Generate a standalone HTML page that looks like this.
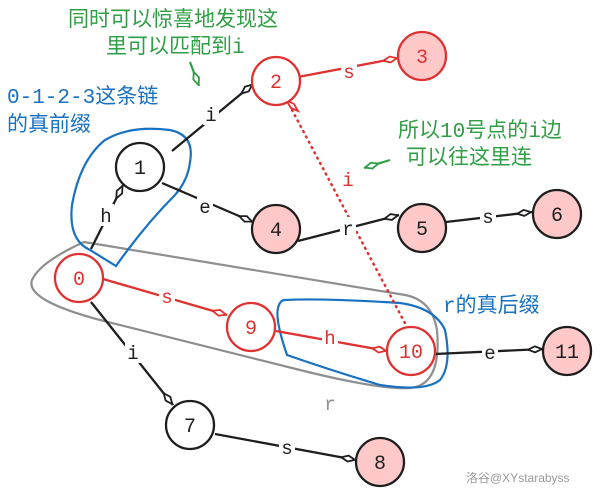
<!DOCTYPE html>
<html><head><meta charset="utf-8"><style>
html,body{margin:0;padding:0;background:#fff}
svg{display:block}
text{font-family:"Liberation Mono","Noto Sans CJK SC",monospace;}
.cn{font-family:"Liberation Sans","Noto Sans CJK SC",sans-serif;}
</style></head><body>
<svg width="600" height="493" viewBox="0 0 600 493" xmlns="http://www.w3.org/2000/svg">
<defs>
<marker id="dk" viewBox="0 0 16 8" refX="16" refY="4" markerWidth="16" markerHeight="8" markerUnits="userSpaceOnUse" orient="auto"><path d="M1 4 L8 1 L15 4 L8 7 Z" fill="#fff" stroke="#1e1e1e" stroke-width="1.8"/></marker>
<marker id="dr" viewBox="0 0 16 8" refX="16" refY="4" markerWidth="16" markerHeight="8" markerUnits="userSpaceOnUse" orient="auto"><path d="M1 4 L8 1 L15 4 L8 7 Z" fill="#fff" stroke="#e03131" stroke-width="1.8"/></marker>
<marker id="dg" viewBox="0 0 16 8" refX="16" refY="4" markerWidth="16" markerHeight="8" markerUnits="userSpaceOnUse" orient="auto"><path d="M1 4 L8 1 L15 4 L8 7 Z" fill="#fff" stroke="#2f9e44" stroke-width="1.8"/></marker>
</defs>

<path d="M84 242 L405 295 Q432 300 437 330 Q442 385 410 388 Q380 390 300 370 Q200 345 100 320 Q25 300 32 280 Q40 262 84 242 Z" fill="none" stroke="#8f8f8f" stroke-width="2.2"/>
<path d="M190 162 Q195 135 170 130 Q130 125 105 140 Q80 160 72 205 Q68 240 90 250 L116 266 Q145 225 175 195 Q188 180 190 162 Z" fill="none" stroke="#1971c2" stroke-width="2.2"/>
<path d="M285 300 Q320 298 400 303 Q435 308 445 330 Q452 365 440 380 Q425 392 380 385 Q330 370 287 355 Q275 320 278 308 Q280 300 285 300 Z" fill="none" stroke="#1971c2" stroke-width="2.2"/>

<g stroke="#1e1e1e" stroke-width="2.3" fill="none">
<line x1="172" y1="151" x2="253" y2="84" marker-end="url(#dk)"/>
<line x1="162" y1="183" x2="253" y2="222" marker-end="url(#dk)"/>
<line x1="91" y1="249" x2="123" y2="185" marker-end="url(#dk)"/>
<line x1="298" y1="241" x2="399" y2="215" marker-end="url(#dk)"/>
<line x1="446" y1="222" x2="532" y2="212" marker-end="url(#dk)"/>
<line x1="435" y1="354" x2="543" y2="349" marker-end="url(#dk)"/>
<line x1="91" y1="302" x2="173" y2="405" marker-end="url(#dk)"/>
<line x1="215" y1="434" x2="356" y2="460" marker-end="url(#dk)"/>
</g>
<g stroke="#e03131" stroke-width="2.3" fill="none">
<line x1="298" y1="77" x2="398" y2="58" marker-end="url(#dr)"/>
<line x1="103" y1="279" x2="227" y2="315" marker-end="url(#dr)"/>
<line x1="276" y1="331" x2="387" y2="351" marker-end="url(#dr)"/>
<line x1="292" y1="110" x2="407" y2="327" stroke-width="2.5" stroke-dasharray="1,5" stroke-linecap="round"/>
</g>
<path d="M286 100 L291 108 L298 111 L294 104 Z" fill="#fff" stroke="#e03131" stroke-width="1.8"/>
<g stroke="#2f9e44" stroke-width="2.2" fill="none">
<line x1="190" y1="62" x2="199" y2="86" marker-end="url(#dg)"/>
<line x1="390" y1="160" x2="364" y2="168" marker-end="url(#dg)"/>
</g>

<g font-size="19" text-anchor="middle" fill="#1e1e1e">
<rect x="203" y="103" width="16" height="22" fill="#fff"/><text x="211" y="121">i</text>
<rect x="197" y="195" width="16" height="22" fill="#fff"/><text x="205" y="213">e</text>
<rect x="98" y="204" width="16" height="22" fill="#fff"/><text x="106" y="222">h</text>
<rect x="340" y="217" width="16" height="22" fill="#fff"/><text x="348" y="235">r</text>
<rect x="480" y="205" width="16" height="22" fill="#fff"/><text x="488" y="223">s</text>
<rect x="482" y="341" width="16" height="22" fill="#fff"/><text x="490" y="359">e</text>
<rect x="125" y="341" width="16" height="22" fill="#fff"/><text x="133" y="359">i</text>
<rect x="279" y="436" width="16" height="22" fill="#fff"/><text x="287" y="454">s</text>
<text x="330" y="410" fill="#8f8f8f">r</text>
</g>
<g font-size="19" text-anchor="middle" fill="#e03131">
<rect x="341" y="61" width="16" height="22" fill="#fff"/><text x="349" y="78">s</text>
<rect x="159" y="286" width="16" height="22" fill="#fff"/><text x="167" y="303">s</text>
<rect x="322" y="327" width="16" height="22" fill="#fff"/><text x="330" y="344">h</text>
<rect x="340" y="169" width="16" height="22" fill="#fff"/><text x="348" y="186">i</text>
</g>

<g stroke-width="2.3" font-size="20" text-anchor="middle">
<circle cx="140" cy="167" r="24" fill="#fff" stroke="#1e1e1e"/><text x="140" y="174" fill="#1e1e1e" stroke="none">1</text>
<circle cx="276" cy="81" r="24" fill="#fff" stroke="#e03131"/><text x="276" y="88" fill="#e03131" stroke="none">2</text>
<circle cx="422" cy="56" r="24" fill="#ffc9c9" stroke="#e03131"/><text x="422" y="63" fill="#e03131" stroke="none">3</text>
<circle cx="276" cy="229" r="24" fill="#ffc9c9" stroke="#1e1e1e"/><text x="276" y="236" fill="#1e1e1e" stroke="none">4</text>
<circle cx="422" cy="228" r="24" fill="#ffc9c9" stroke="#1e1e1e"/><text x="422" y="235" fill="#1e1e1e" stroke="none">5</text>
<circle cx="557" cy="214" r="24" fill="#ffc9c9" stroke="#1e1e1e"/><text x="557" y="221" fill="#1e1e1e" stroke="none">6</text>
<circle cx="79" cy="278" r="24" fill="#fff" stroke="#e03131"/><text x="79" y="285" fill="#e03131" stroke="none">0</text>
<circle cx="251" cy="327" r="24" fill="#fff" stroke="#e03131"/><text x="251" y="334" fill="#e03131" stroke="none">9</text>
<circle cx="411" cy="351" r="24" fill="#fff" stroke="#e03131"/><text x="411" y="358" fill="#e03131" stroke="none">10</text>
<circle cx="567" cy="351" r="24" fill="#ffc9c9" stroke="#1e1e1e"/><text x="567" y="358" fill="#1e1e1e" stroke="none">11</text>
<circle cx="190" cy="425" r="24" fill="#fff" stroke="#1e1e1e"/><text x="190" y="432" fill="#1e1e1e" stroke="none">7</text>
<circle cx="380" cy="462" r="24" fill="#ffc9c9" stroke="#1e1e1e"/><text x="380" y="469" fill="#1e1e1e" stroke="none">8</text>
</g>

<g font-size="21">
<text x="68" y="26" fill="#2f9e44">同时可以惊喜地发现这</text>
<text x="106" y="53" fill="#2f9e44">里可以匹配到i</text>
<text x="7" y="103" fill="#1971c2">0-1-2-3这条链</text>
<text x="7" y="131" fill="#1971c2">的真前缀</text>
<text x="398" y="137" fill="#2f9e44">所以10号点的i边</text>
<text x="406" y="164" fill="#2f9e44">可以往这里连</text>
<text x="443" y="312" fill="#1971c2">r的真后缀</text>
</g>
<text x="466" y="482" font-size="12" fill="#999" class="cn">洛谷@XYstarabyss</text>
</svg>
</body></html>
